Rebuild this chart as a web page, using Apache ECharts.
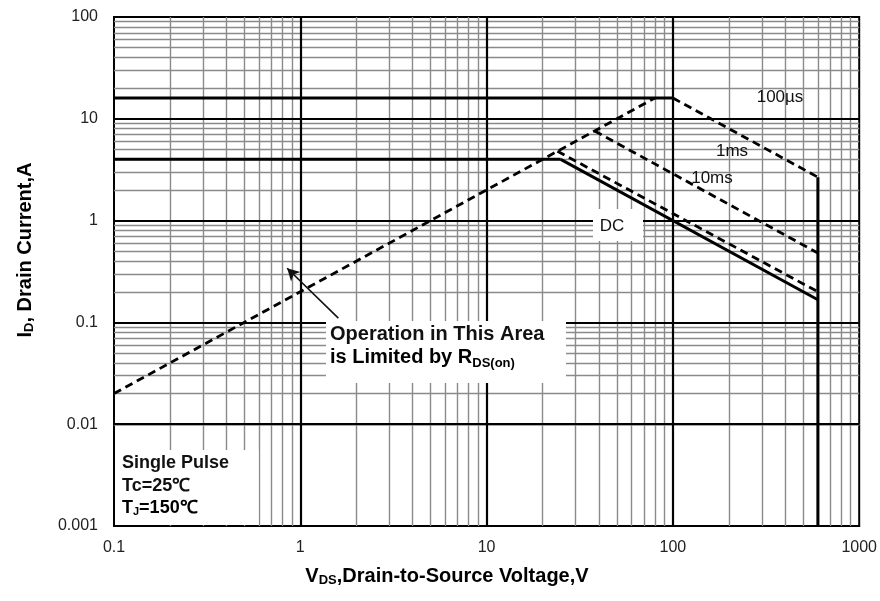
<!DOCTYPE html>
<html>
<head>
<meta charset="utf-8">
<script src="https://cdn.jsdelivr.net/npm/echarts@6/dist/echarts.min.js"></script>
<style>
html,body{margin:0;padding:0;background:#fff;}
#c{width:880px;height:601px;}
</style>
</head>
<body>
<div id="c"></div>
<script>
// ---- data ----
const xTicks = [0.1, 1, 10, 100, 1000];
const yTicks = [0.001, 0.01, 0.1, 1, 10, 100];

const rdsX = [0.1, 80];      const rdsY = [0.02, 16];     // R_DS(on) limit (dashed)
const lim16X = [0.1, 100];   const lim16Y = [16, 16];     // pulsed current limit
const lim4X = [0.1, 25];     const lim4Y = [4, 4];        // continuous current limit
const dcX = [25, 600];       const dcY = [4, 0.167];      // DC
const ms10X = [24, 600];     const ms10Y = [4.8, 0.2];    // 10 ms
const ms1X = [38, 600];      const ms1Y = [7.6, 0.48];    // 1 ms
const us100X = [100, 600];   const us100Y = [16, 2.67];   // 100 us
const vmaxX = [600, 600];    const vmaxY = [2.67, 0.001]; // V_DS max

const arrowFrom = [1.6, 0.11];
const arrowTo = [0.85, 0.34];

// ---- helpers ----
function pairs(xs, ys){ return xs.map((x,i)=>[x, ys[i]]); }
function fmt(v){ return String(parseFloat(Number(v).toPrecision(6))); }

// grid line values (2..9 multiples of each decade)
function minorVals(lo, hi){
  const out=[];
  for(let d=lo; d<hi; d*=10){
    for(let k=2;k<=9;k++) out.push(parseFloat((d*k).toPrecision(6)));
  }
  return out;
}
const xMinor = minorVals(0.1, 1000);
const yMinor = minorVals(0.001, 100);

const chart = echarts.init(document.getElementById('c'), null, {renderer:'canvas'});

const FONT = 'Liberation Sans, Arial, sans-serif';
const solid = {color:'#000', width:3, type:'solid'};
const dashed = {color:'#000', width:2.8, type:[8,5]};

function lineSeries(name, xs, ys, style){
  return {
    name, type:'line', data:pairs(xs, ys), symbol:'none', z:4,
    lineStyle:style, animation:false, silent:true
  };
}

const option = {
  backgroundColor:'#fff',
  animation:false,
  grid:{left:114, right:18, top:17, bottom:75, show:true, borderColor:'#000', borderWidth:2, backgroundColor:'#fff'},
  xAxis:{
    type:'log', logBase:10, min:0.1, max:1000,
    axisLine:{show:true, lineStyle:{color:'#000', width:2}},
    axisTick:{show:false},
    splitLine:{show:false},
    minorTick:{show:false}, minorSplitLine:{show:false},
    axisLabel:{formatter:fmt, fontFamily:FONT, fontSize:16, color:'#222', margin:14}
  },
  yAxis:{
    type:'log', logBase:10, min:0.001, max:100,
    axisLine:{show:true, lineStyle:{color:'#000', width:2}},
    axisTick:{show:false},
    splitLine:{show:false},
    minorTick:{show:false}, minorSplitLine:{show:false},
    axisLabel:{formatter:fmt, fontFamily:FONT, fontSize:16, color:'#222', margin:16}
  },
  series:[
    { // grid lines drawn through the axes' scales
      type:'line', data:[], z:1, silent:true,
      markLine:{
        z:1, silent:true, symbol:'none', animation:false, label:{show:false},
        data:[
          ...xMinor.map(v=>({xAxis:v, lineStyle:{color:'#8a8a8a', width:1.4, type:'solid'}})),
          ...yMinor.map(v=>({yAxis:v, lineStyle:{color:'#8a8a8a', width:1.4, type:'solid'}})),
          ...xTicks.slice(1,-1).map(v=>({xAxis:v, lineStyle:{color:'#000', width:2.2, type:'solid'}})),
          ...yTicks.slice(1,-1).map(v=>({yAxis:v, lineStyle:{color:'#000', width:2.2, type:'solid'}}))
        ]
      }
    },
    lineSeries('RDS', rdsX, rdsY, dashed),
    lineSeries('16A', lim16X, lim16Y, solid),
    lineSeries('4A', lim4X, lim4Y, solid),
    lineSeries('DC', dcX, dcY, solid),
    lineSeries('10ms', ms10X, ms10Y, dashed),
    lineSeries('1ms', ms1X, ms1Y, dashed),
    lineSeries('100us', us100X, us100Y, dashed),
    lineSeries('Vmax', vmaxX, vmaxY, solid),
    {
      type:'line', data:[], z:6, silent:true,
      markLine:{
        z:6, silent:true, animation:false, label:{show:false},
        symbol:['none','arrow'], symbolSize:[10,12],
        lineStyle:{color:'#111', width:1.6, type:'solid'},
        data:[[{coord:arrowFrom},{coord:arrowTo}]]
      }
    }
  ],
  graphic:[
    // white boxes behind annotations
    {type:'rect', z:3, shape:{x:326, y:321, width:240, height:62}, style:{fill:'#fff'}},
    {type:'rect', z:3, shape:{x:593, y:209, width:50, height:32}, style:{fill:'#fff'}},
    {type:'rect', z:3, shape:{x:115.5, y:450, width:143, height:75}, style:{fill:'#fff'}},
    {type:'text', z:7, x:780, y:97, style:{text:'100µs', font:'17px '+FONT, fill:'#111', align:'center', verticalAlign:'middle'}},
    {type:'text', z:7, x:732, y:151, style:{text:'1ms', font:'17px '+FONT, fill:'#111', align:'center', verticalAlign:'middle'}},
    {type:'text', z:7, x:712, y:178, style:{text:'10ms', font:'17px '+FONT, fill:'#111', align:'center', verticalAlign:'middle'}},
    {type:'text', z:7, x:612, y:226, style:{text:'DC', font:'17px '+FONT, fill:'#111', align:'center', verticalAlign:'middle'}},
    {type:'text', z:7, x:330, y:334, style:{
      text:'Operation in This Area', font:'bold 20px '+FONT, fill:'#111', verticalAlign:'middle'}},
    {type:'text', z:7, x:330, y:357, style:{
      text:'{a|is Limited by R}{s|DS(on)}',
      verticalAlign:'middle',
      rich:{a:{font:'bold 20px '+FONT, color:'#111'}, s:{font:'bold 13px '+FONT, color:'#111', padding:[12,0,0,0]}}}},
    {type:'text', z:7, x:122, y:463, style:{text:'Single Pulse', font:'bold 18px '+FONT, fill:'#111', verticalAlign:'middle'}},
    {type:'text', z:7, x:122, y:486, style:{text:'Tc=25℃', font:'bold 18px '+FONT, fill:'#111', verticalAlign:'middle'}},
    {type:'text', z:7, x:122, y:508, style:{
      text:'{a|T}{s|J}{a|=150℃}', verticalAlign:'middle',
      rich:{a:{font:'bold 18px '+FONT, color:'#111'}, s:{font:'bold 11px '+FONT, color:'#111', padding:[8,0,0,0]}}}},
    // axis titles
    {type:'text', z:7, x:447, y:576, style:{
      text:'{a|V}{s|DS}{a|,Drain-to-Source Voltage,V}', align:'center', verticalAlign:'middle',
      rich:{a:{font:'bold 20px '+FONT, color:'#111'}, s:{font:'bold 13px '+FONT, color:'#111', padding:[9,0,0,0]}}}},
    {type:'text', z:7, x:25, y:250, rotation:Math.PI/2, style:{
      text:'{a|I}{s|D}{a|, Drain Current,A}', align:'center', verticalAlign:'middle',
      rich:{a:{font:'bold 20px '+FONT, color:'#111'}, s:{font:'bold 13px '+FONT, color:'#111', padding:[9,0,0,0]}}}}
  ]
};
chart.setOption(option);
</script>
</body>
</html>
